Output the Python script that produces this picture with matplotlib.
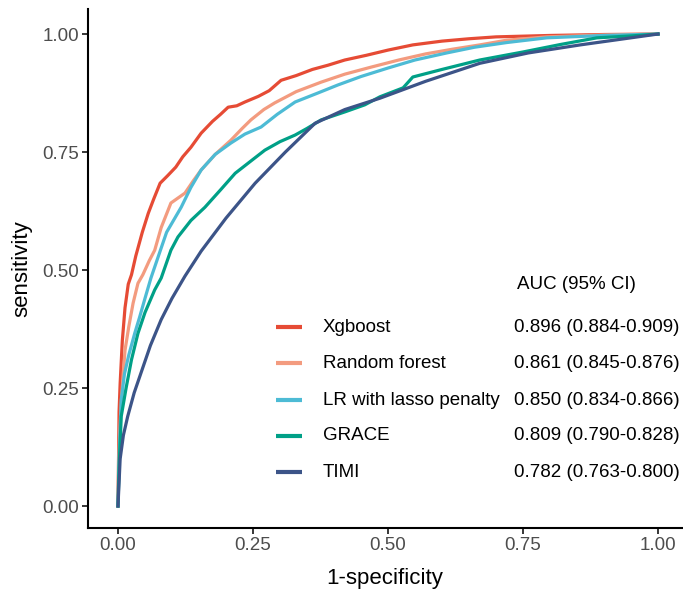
import matplotlib
matplotlib.use("Agg")
import matplotlib.pyplot as plt

plt.rcParams['font.family'] = ['Liberation Sans', 'DejaVu Sans']

# model names, colours and AUC labels
models = ["Xgboost", "Random forest", "LR with lasso penalty", "GRACE", "TIMI"]
colors = ["#E64B35", "#F39B7F", "#4DBBD5", "#00A087", "#3C5488"]
auc_labels = ["0.896 (0.884-0.909)", "0.861 (0.845-0.876)", "0.850 (0.834-0.866)",
              "0.809 (0.790-0.828)", "0.782 (0.763-0.800)"]

# ROC points (1-specificity, sensitivity)
xgb_fpr = [0, 0.001, 0.002, 0.004, 0.008, 0.013, 0.019, 0.025, 0.033, 0.045, 0.056, 0.066,
           0.078, 0.092, 0.107, 0.12, 0.135, 0.154, 0.175, 0.19, 0.204, 0.22, 0.235, 0.26,
           0.28, 0.302, 0.33, 0.36, 0.389, 0.42, 0.46, 0.5, 0.546, 0.6, 0.65, 0.7, 0.8, 0.9, 1]
xgb_tpr = [0, 0.10, 0.20, 0.26, 0.35, 0.42, 0.47, 0.49, 0.53, 0.58, 0.62, 0.65,
           0.684, 0.70, 0.718, 0.74, 0.76, 0.79, 0.815, 0.83, 0.845, 0.848, 0.856, 0.868,
           0.88, 0.902, 0.912, 0.925, 0.934, 0.945, 0.955, 0.966, 0.977, 0.985, 0.99, 0.994,
           0.997, 0.999, 1]

rf_fpr = [0, 0.002, 0.005, 0.009, 0.013, 0.02, 0.028, 0.037, 0.046, 0.058, 0.068, 0.08,
          0.098, 0.124, 0.14, 0.154, 0.18, 0.209, 0.23, 0.246, 0.27, 0.29, 0.33, 0.376,
          0.42, 0.469, 0.52, 0.57, 0.62, 0.67, 0.72, 0.794, 0.9, 1]
rf_tpr = [0, 0.12, 0.20, 0.27, 0.33, 0.38, 0.43, 0.472, 0.49, 0.52, 0.542, 0.59,
          0.642, 0.663, 0.69, 0.712, 0.745, 0.775, 0.80, 0.818, 0.84, 0.854, 0.878, 0.898,
          0.915, 0.93, 0.945, 0.958, 0.968, 0.977, 0.987, 0.994, 0.998, 1]

lr_fpr = [0, 0.002, 0.006, 0.012, 0.02, 0.031, 0.04, 0.05, 0.061, 0.075, 0.09, 0.117,
          0.135, 0.154, 0.18, 0.209, 0.235, 0.265, 0.295, 0.328, 0.37, 0.407, 0.45, 0.5,
          0.55, 0.609, 0.66, 0.72, 0.794, 0.9, 1]
lr_tpr = [0, 0.10, 0.225, 0.28, 0.32, 0.366, 0.40, 0.44, 0.483, 0.53, 0.58, 0.633,
          0.675, 0.712, 0.745, 0.769, 0.788, 0.803, 0.83, 0.856, 0.875, 0.892, 0.91, 0.928,
          0.945, 0.96, 0.972, 0.982, 0.992, 0.997, 1]

grace_fpr = [0, 0.002, 0.006, 0.015, 0.025, 0.037, 0.05, 0.068, 0.08, 0.098, 0.111, 0.135,
             0.161, 0.19, 0.217, 0.245, 0.272, 0.3, 0.328, 0.35, 0.376, 0.42, 0.457, 0.485,
             0.528, 0.546, 0.6, 0.67, 0.75, 0.82, 0.887, 0.95, 1]
grace_tpr = [0, 0.08, 0.19, 0.25, 0.31, 0.366, 0.41, 0.458, 0.483, 0.542, 0.57, 0.605,
             0.633, 0.67, 0.705, 0.73, 0.754, 0.772, 0.786, 0.80, 0.818, 0.835, 0.85, 0.867,
             0.886, 0.909, 0.925, 0.945, 0.962, 0.978, 0.992, 0.996, 1]

timi_fpr = [0, 0.004, 0.01, 0.018, 0.03, 0.045, 0.06, 0.08, 0.1, 0.124, 0.154, 0.2, 0.254,
            0.31, 0.365, 0.42, 0.485, 0.57, 0.67, 0.76, 0.856, 1]
timi_tpr = [0, 0.10, 0.15, 0.19, 0.24, 0.29, 0.34, 0.395, 0.44, 0.487, 0.54, 0.61, 0.684,
            0.75, 0.811, 0.84, 0.864, 0.90, 0.938, 0.96, 0.977, 1]

curves = [(xgb_fpr, xgb_tpr), (rf_fpr, rf_tpr), (lr_fpr, lr_tpr),
          (grace_fpr, grace_tpr), (timi_fpr, timi_tpr)]

fig = plt.figure(figsize=(6.83, 5.94), dpi=100)
ax = fig.add_axes([0.1288, 0.1111, 0.8697, 0.8737])

for (fx, ty), col in zip(curves, colors):
    ax.plot(fx, ty, color=col, lw=2.3, solid_joinstyle='round')

ax.set_xlim(-0.0556, 1.0444)
ax.set_ylim(-0.0466, 1.053)
ticks = [0, 0.25, 0.5, 0.75, 1.0]
ax.set_xticks(ticks)
ax.set_yticks(ticks)
ax.set_xticklabels(["0.00", "0.25", "0.50", "0.75", "1.00"])
ax.set_yticklabels(["0.00", "0.25", "0.50", "0.75", "1.00"])
ax.tick_params(labelsize=13.5, labelcolor='#4D4D4D', length=4.3, width=1.1, pad=2.2)

for s in ['top', 'right']:
    ax.spines[s].set_visible(False)
for s in ['left', 'bottom']:
    ax.spines[s].set_linewidth(1.5)

ax.set_xlabel("1-specificity", fontsize=16, labelpad=10)
ax.set_ylabel("sensitivity", fontsize=16, labelpad=7)

# legend with AUC column
ax.text(0.722, 0.4701, "AUC (95% CI)", transform=ax.transAxes, fontsize=13.5,
        va='center', ha='left')
rows = [0.3873, 0.3179, 0.2466, 0.1773, 0.1079]
for name, col, auc, ry in zip(models, colors, auc_labels, rows):
    ax.plot([0.3165, 0.3603], [ry, ry], transform=ax.transAxes, color=col, lw=3,
            solid_capstyle='butt')
    ax.text(0.3956, ry, name, transform=ax.transAxes, fontsize=13.5, va='center', ha='left')
    ax.text(0.717, ry, auc, transform=ax.transAxes, fontsize=13.5, va='center', ha='left')

fig.savefig("out.png", dpi=100)
